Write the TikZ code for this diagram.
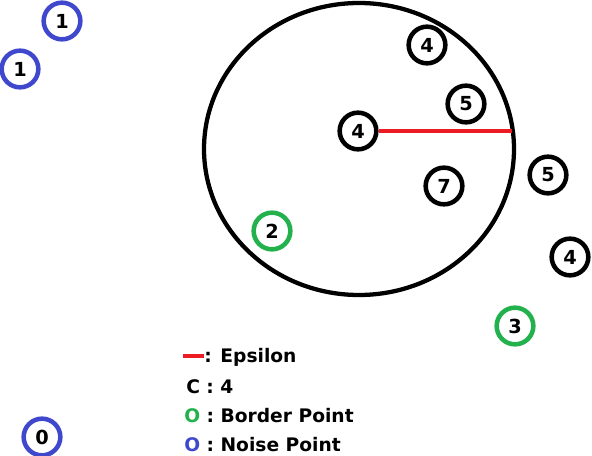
\documentclass[tikz,border=0pt]{standalone}
\usepackage{fontspec}
\usetikzlibrary{shapes.geometric}
\setmainfont{DejaVu Sans}
\definecolor{pblue}{HTML}{3F48CC}
\definecolor{pgreen}{HTML}{22B14C}
\definecolor{pred}{HTML}{ED1C24}
\tikzset{
  pt/.style={circle, draw=#1, line width=3.4pt, minimum size=27.5pt, inner sep=0pt,
    font=\bfseries\fontsize{14.5}{15}\selectfont, text=black},
  corept/.style={pt=black},
  borderpt/.style={pt=pgreen},
  noisept/.style={pt=pblue},
  legend/.style={anchor=base west, inner sep=0pt, font=\bfseries\fontsize{14}{15}\selectfont},
  epsline/.style={draw=pred, line width=3pt}
}
\begin{document}
\begin{tikzpicture}[x=0.75pt, y=-0.75pt]
\useasboundingbox (0,0) rectangle (592,456);
% epsilon neighbourhood
\node[ellipse, draw=black, line width=3.2pt, minimum width=232.5pt, minimum height=219pt, inner sep=0pt] (eps) at (359,149) {};
% points
\node[noisept] (n1) at (62,21) {1};
\node[noisept] (n2) at (20,69) {1};
\node[noisept] (n3) at (42,437) {0};
\node[corept] (a) at (427,45) {4};
\node[corept] (b) at (466,104) {5};
\node[corept] (c) at (358,131) {4};
\node[corept] (d) at (548,175) {5};
\node[corept] (e) at (444,186) {7};
\node[corept] (f) at (570,257) {4};
\node[borderpt] (g) at (272,231) {2};
\node[borderpt] (h) at (515,326) {3};
% epsilon radius
\coordinate (epsend) at (512,131);
\draw[epsline] (c) -- (epsend);
% legend
\coordinate (l1) at (183,356);
\coordinate (l2) at (204,356);
\draw[epsline] (l1) -- (l2);
\node[legend] (t1) at (204,362) {: Epsilon};
\node[legend] (t2) at (186,393) {C : 4};
\node[legend] (t3) at (184,422) {\textcolor{pgreen}{O} : Border Point};
\node[legend] (t4) at (184,451) {\textcolor{pblue}{O} : Noise Point};
\end{tikzpicture}
\end{document}
